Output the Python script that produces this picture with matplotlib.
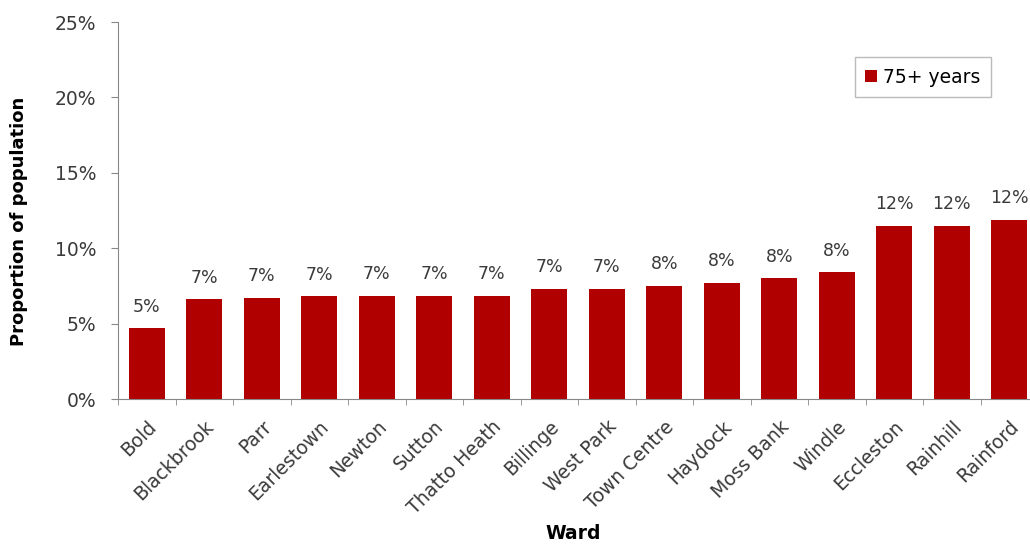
import numpy as np
import matplotlib.pyplot as plt
from matplotlib.ticker import FuncFormatter, FixedLocator

wards = ["Bold", "Blackbrook", "Parr", "Earlestown", "Newton", "Sutton",
         "Thatto Heath", "Billinge", "West Park", "Town Centre", "Haydock",
         "Moss Bank", "Windle", "Eccleston", "Rainhill", "Rainford"]
share_75plus = [4.7, 6.6, 6.7, 6.8, 6.85, 6.85, 6.85, 7.3, 7.3, 7.5, 7.7,
                8.0, 8.4, 11.5, 11.5, 11.9]
bar_labels = ["5%", "7%", "7%", "7%", "7%", "7%", "7%", "7%", "7%", "8%",
              "8%", "8%", "8%", "12%", "12%", "12%"]

plt.rcParams['font.family'] = ['DejaVu Sans']
bar_color = "#b00000"
text_color = "#3a3a3a"

fig = plt.figure(figsize=(10.3, 5.46), dpi=100)
ax = fig.add_axes([0.1146, 0.2692, 0.8932, 0.6905])

x = np.arange(len(wards))
bars = ax.bar(x, share_75plus, width=0.63, color=bar_color, label="75+ years")

for b, lab in zip(bars, bar_labels):
    ax.annotate(lab, (b.get_x() + b.get_width() / 2, b.get_height()),
                xytext=(0, 9), textcoords="offset points", ha="center",
                va="bottom", fontsize=12.5, color=text_color)

ax.set_xlim(-0.5, len(wards) - 0.5)
ax.set_ylim(0, 25)
ax.set_yticks([0, 5, 10, 15, 20, 25])
ax.yaxis.set_major_formatter(FuncFormatter(lambda v, p: f"{v:.0f}%"))

ax.set_xticks(x)
ax.set_xticklabels(wards, rotation=45, ha="right", rotation_mode="anchor",
                   fontsize=13.5, color=text_color)
ax.xaxis.set_minor_locator(FixedLocator(np.arange(-0.5, len(wards), 1.0)))
ax.tick_params(axis="x", which="major", length=0, pad=13)
ax.tick_params(axis="x", which="minor", length=4, color="#888888")
ax.tick_params(axis="y", length=5, color="#888888", labelsize=13.5,
               labelcolor=text_color, pad=10.5)

for side in ["top", "right"]:
    ax.spines[side].set_visible(False)
for side in ["left", "bottom"]:
    ax.spines[side].set_color("#888888")

ax.set_ylabel("Proportion of population", fontsize=13, fontweight="bold",
              color="black")
ax.yaxis.set_label_coords(-0.098, 0.47)
ax.set_xlabel("Ward", fontsize=13.5, fontweight="bold", color="black",
              va="center")
ax.xaxis.set_label_coords(0.4946, -0.3554)

leg = ax.legend(loc="upper right", bbox_to_anchor=(0.959, 0.931), fontsize=13.5,
                frameon=True, fancybox=False, handlelength=0.6,
                handleheight=0.6, handletextpad=0.35, borderpad=0.55)
leg.get_frame().set_edgecolor("#aaaaaa")
leg.get_frame().set_linewidth(1.0)

fig.savefig("out.png", dpi=100)
